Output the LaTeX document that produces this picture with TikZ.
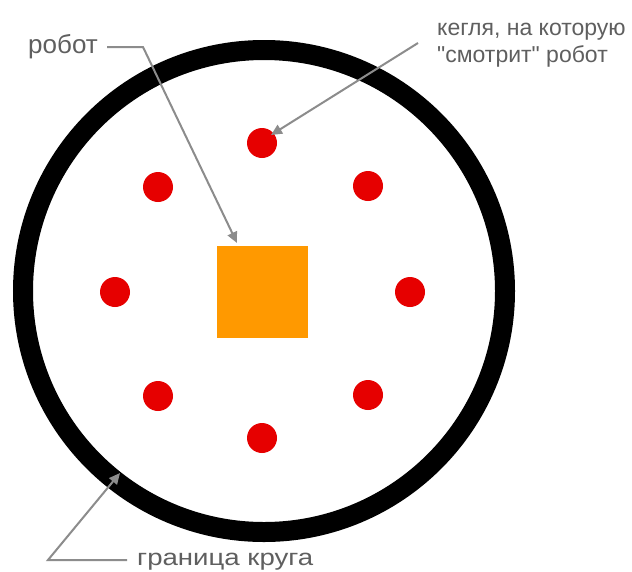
\documentclass[tikz,border=0pt]{standalone}
\usepackage{fontspec}
\setmainfont{Liberation Sans}[Ligatures=TeXOff]
\usetikzlibrary{arrows.meta}
\definecolor{pin}{RGB}{230,0,0}
\definecolor{robotc}{RGB}{255,153,0}
\definecolor{callout}{RGB}{140,140,140}
\definecolor{labelc}{RGB}{95,95,95}
\tikzset{
  pin/.style={circle,fill=pin,minimum size=30pt,inner sep=0pt},
  lbl/.style={text=labelc,font=\fontsize{23}{27}\selectfont,inner sep=0pt,anchor=base west},
  callarrow/.style={draw=callout,line width=2pt,-{Triangle[length=11pt,width=10pt]}},
}
\begin{document}
\begin{tikzpicture}[x=1pt,y=-1pt]
\useasboundingbox (0,0) rectangle (632,571);
\fill[white] (0,0) rectangle (632,571);
% ring
\draw[line width=20pt] (264,291) circle[radius=241];
% robot
\node[fill=robotc,minimum width=91pt,minimum height=92pt,inner sep=0pt] (robot) at (262.5,292) {};
% pins
\node[pin] (p1) at (262,143) {};
\node[pin] (p2) at (368,186) {};
\node[pin] (p3) at (410,292) {};
\node[pin] (p4) at (368,395) {};
\node[pin] (p5) at (262,438) {};
\node[pin] (p6) at (158,396) {};
\node[pin] (p7) at (115,292) {};
\node[pin] (p8) at (158,187) {};
% labels
\node[lbl,font=\fontsize{26}{28}\selectfont] (lrobot) at (28,53) {робот};
\node[lbl] (lpin1) at (437,35) {кегля, на которую};
\node[lbl] (lpin2) at (437,62) {"смотрит" робот};
\node[lbl] (lring) at (137,565) {\scalebox{1.2}[1]{граница круга}};
% callouts
\coordinate (c1a) at (107,47);
\coordinate (c1b) at (143,47);
\coordinate (t1) at (237,243);
\draw[callarrow] (c1a) -- (c1b) -- (t1);
\coordinate (c2a) at (418,43);
\coordinate (t2) at (271,135);
\draw[callarrow] (c2a) -- (t2);
\coordinate (c3a) at (127,560);
\coordinate (c3b) at (48,560);
\coordinate (t3) at (120,473);
\draw[callarrow] (c3a) -- (c3b) -- (t3);
\end{tikzpicture}
\end{document}
